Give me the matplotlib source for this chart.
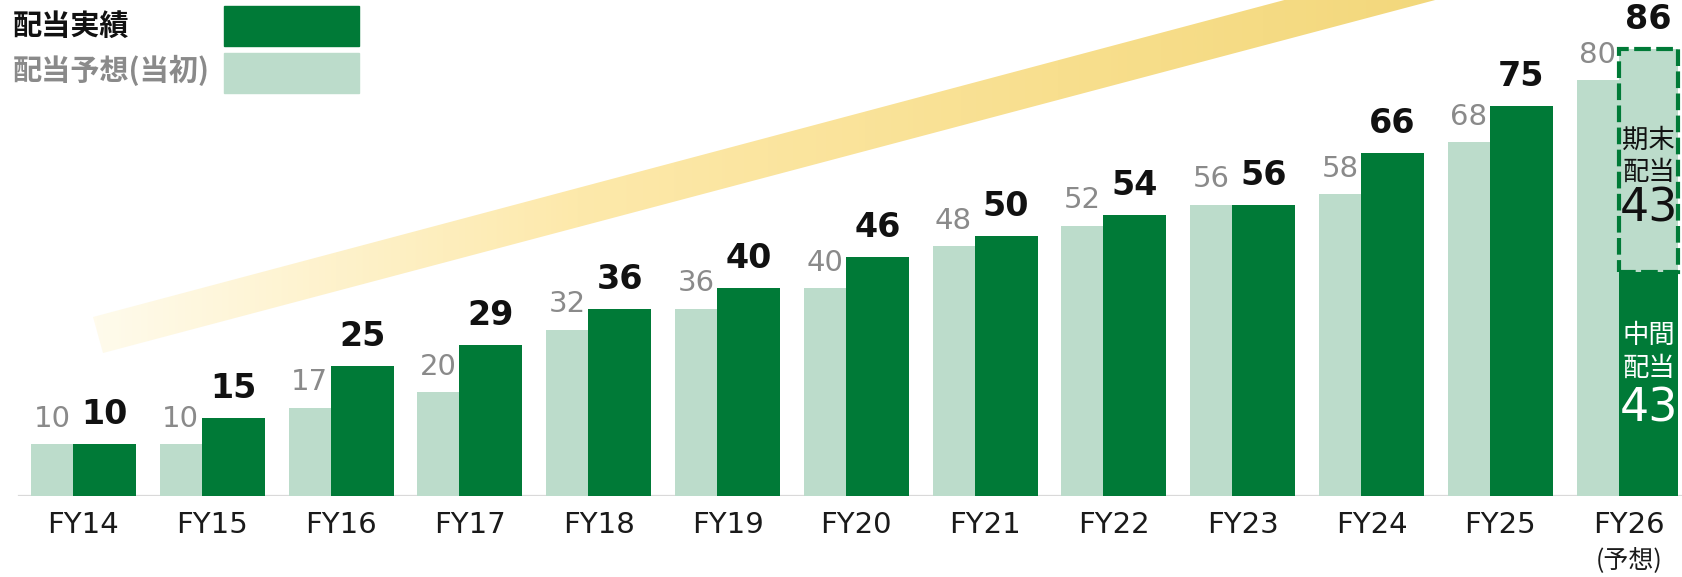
import matplotlib
matplotlib.use("Agg")
import matplotlib.pyplot as plt
import numpy as np
from matplotlib.colors import LinearSegmentedColormap
from matplotlib.patches import Polygon

plt.rcParams['font.family'] = ['DejaVu Sans', 'Noto Sans CJK JP']
CJK = ['Noto Sans CJK JP', 'DejaVu Sans']

# ---------------- data ----------------
categories = ["FY14", "FY15", "FY16", "FY17", "FY18", "FY19", "FY20",
              "FY21", "FY22", "FY23", "FY24", "FY25", "FY26"]
forecast_initial = [10, 10, 17, 20, 32, 36, 40, 48, 52, 56, 58, 68, 80]   # 配当予想(当初)
actual = [10, 15, 25, 29, 36, 40, 46, 50, 54, 56, 66, 75]                 # 配当実績 FY14-FY25
fy26_interim = 43      # 中間配当
fy26_yearend = 43      # 期末配当
legend_labels = ["配当実績", "配当予想(当初)"]
fy26_note = "(予想)"

DARK = "#007a37"
LIGHT = "#bcdccb"
GRAY_TXT = "#8a8a8a"

W, H = 1683, 577
fig = plt.figure(figsize=(W / 100, H / 100), dpi=100)

# ---------------- decorative gradient band ----------------
bg = fig.add_axes([0, 0, 1, 1], zorder=0)
bg.set_xlim(0, W)
bg.set_ylim(H, 0)
bg.axis("off")
cmap = LinearSegmentedColormap.from_list(
    "band", [(0, "#fffbec"), (0.35, "#fde9ab"), (0.7, "#f8df8e"), (1, "#f2d77a")])
grad = np.linspace(0, 1, 512)[None, :]
band_poly = Polygon([(93, 317), (103, 353), (1473, -10), (1322, -10)],
                    closed=True, transform=bg.transData, facecolor="none", edgecolor="none")
bg.add_patch(band_poly)
im = bg.imshow(grad, cmap=cmap, extent=(93, 1473, 360, -10), aspect="auto",
               interpolation="bilinear")
im.set_clip_path(band_poly)
bg.set_xlim(0, W)
bg.set_ylim(H, 0)

# ---------------- main axes ----------------
ax = fig.add_axes([0, 81 / H, 1, 496 / H], zorder=1)
ax.patch.set_visible(False)
n = len(categories)
x = np.arange(n)
ax.set_xlim(-0.648, 12.418)
ax.set_ylim(0, 95.4)

light_off, light_w = -0.4076, 0.326
dark_off, dark_w = -0.0815, 0.489

ax.bar(x + light_off, forecast_initial, width=light_w, align="edge",
       color=LIGHT, zorder=2)
xa = x[:len(actual)]
ax.bar(xa + dark_off, actual, width=dark_w, align="edge", color=DARK, zorder=3)

# FY26 stacked forecast
i26 = n - 1
fy26_total = fy26_interim + fy26_yearend
w26 = dark_w - 0.025
ax.bar(i26 + dark_off, fy26_interim, width=w26, align="edge",
       color=DARK, zorder=3)
ax.bar(i26 + dark_off, fy26_yearend, bottom=fy26_interim, width=w26,
       align="edge", color=LIGHT, edgecolor=DARK, linewidth=3.0,
       linestyle=(0, (4, 1.3)), zorder=3)

# baseline
ax.axhline(0, xmin=19 / W, xmax=1, color="#d9d9d9", lw=1.6, zorder=1)

# value labels
for i, v in enumerate(forecast_initial):
    ax.annotate(str(v), (i + light_off + light_w / 2, v), xytext=(0, 12.5),
                textcoords="offset points", ha="center", va="baseline",
                fontsize=21, color=GRAY_TXT, zorder=5)
for i, v in enumerate(actual):
    ax.annotate(str(v), (i + dark_off + dark_w / 2, v), xytext=(0, 14.5),
                textcoords="offset points", ha="center", va="baseline",
                fontsize=24, fontweight="bold", color="#111111", zorder=5)
cx26 = i26 + dark_off + w26 / 2
ax.annotate(str(fy26_total), (cx26, fy26_total), xytext=(0, 14.5),
            textcoords="offset points", ha="center", va="baseline",
            fontsize=24, fontweight="bold", color="#111111", zorder=5)

# texts inside FY26 segments
up0 = fy26_interim
ax.text(cx26, up0 + 0.593 * fy26_yearend, "期末", ha="center", va="center",
        fontsize=19, color="#111111", zorder=6, family=CJK)
ax.text(cx26, up0 + 0.448 * fy26_yearend, "配当", ha="center", va="center",
        fontsize=19, color="#111111", zorder=6, family=CJK)
ax.text(cx26, up0 + 0.285 * fy26_yearend, str(fy26_yearend), ha="center", va="center",
        fontsize=33, color="#111111", zorder=6)
ax.text(cx26, 0.72 * fy26_interim, "中間", ha="center", va="center",
        fontsize=19, color="white", zorder=6, family=CJK)
ax.text(cx26, 0.572 * fy26_interim, "配当", ha="center", va="center",
        fontsize=19, color="white", zorder=6, family=CJK)
ax.text(cx26, 0.39 * fy26_interim, str(fy26_interim), ha="center", va="center",
        fontsize=33, color="white", zorder=6)

# category labels
for i, c in enumerate(categories):
    ax.annotate(c, (i, 0), xycoords=("data", "axes fraction"), xytext=(0, -21),
                textcoords="offset points", ha="center", va="center",
                fontsize=21, color="#1a1a1a")
ax.annotate(fy26_note, (i26, 0), xycoords=("data", "axes fraction"), xytext=(0, -46),
            textcoords="offset points", ha="center", va="center",
            fontsize=18, color="#1a1a1a", family=CJK)

ax.set_xticks([])
ax.set_yticks([])
for s in ax.spines.values():
    s.set_visible(False)

# ---------------- legend ----------------
bg.text(13, 26, legend_labels[0], ha="left", va="center", fontsize=21,
        fontweight="bold", color="#111111", family=CJK)
bg.text(13, 70, legend_labels[1], ha="left", va="center", fontsize=21,
        fontweight="bold", color=GRAY_TXT, family=CJK)
bg.add_patch(plt.Rectangle((224, 6), 135, 40, color=DARK))
bg.add_patch(plt.Rectangle((224, 53), 135, 40, color=LIGHT))

fig.savefig("out.png", dpi=100)
